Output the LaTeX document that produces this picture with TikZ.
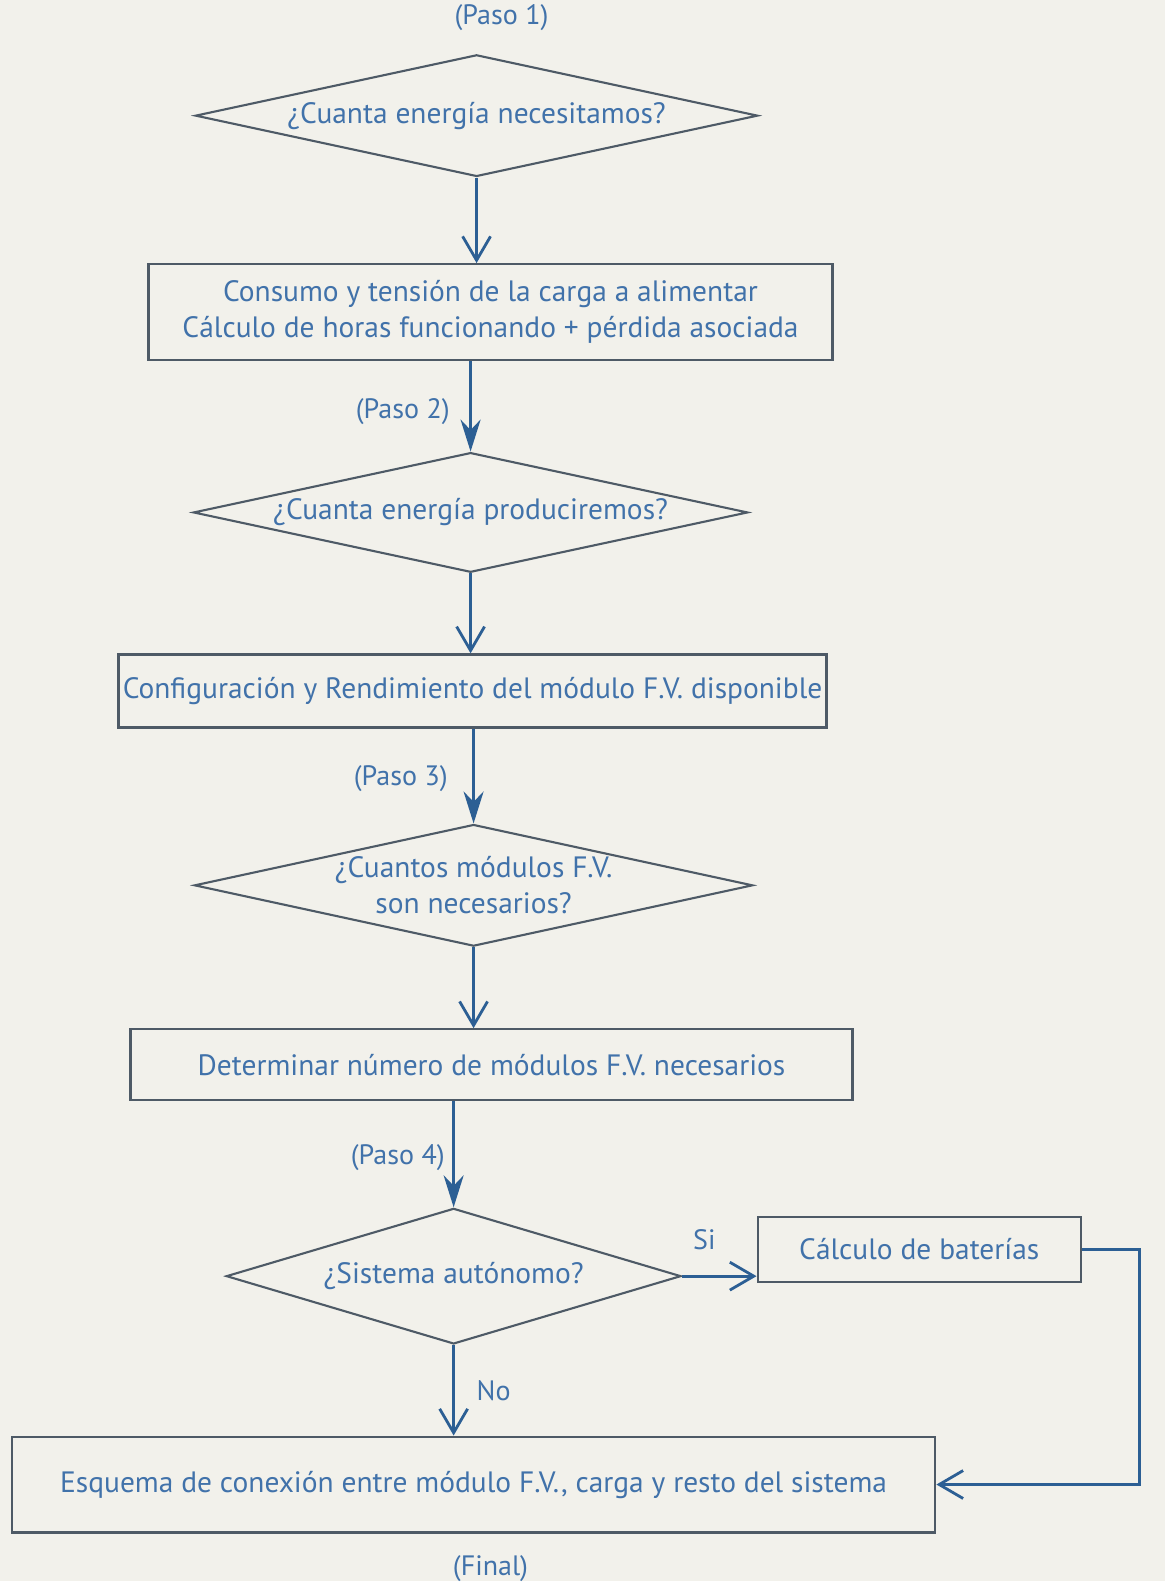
\documentclass[tikz,border=0pt]{standalone}
\usepackage{fontspec}
\setmainfont{PT Sans}
\usepackage{xcolor}
\usetikzlibrary{shapes,arrows.meta,positioning,calc}

\definecolor{paper}{HTML}{F2F1EB}
\definecolor{inkblue}{HTML}{4172AA}
\definecolor{arrowblue}{HTML}{2C5F94}
\definecolor{linegray}{HTML}{4E5A66}

\begin{document}
\begin{tikzpicture}[
  x=0.025cm, y=-0.025cm,
  every node/.style={text=inkblue, font=\fontsize{21}{26}\selectfont},
  box/.style={rectangle, draw=linegray, line width=1.6pt, fill=paper, align=center, inner sep=0pt},
  question/.style={diamond, draw=linegray, line width=1.5pt, fill=paper, align=center, inner sep=0pt, aspect=4.6},
  tag/.style={font=\fontsize{20}{24}\selectfont},
  openarrow/.style={-{Straight Barb[length=6mm,width=7mm,line width=2pt]}, line width=2.3pt, draw=arrowblue},
  fillarrow/.style={-{Stealth[length=8mm,width=5mm]}, line width=2.3pt, draw=arrowblue}
]

% paper background
\fill[paper] (0,0) rectangle (1169,1586);

% Step 1
\node[tag] (paso1) at (503,18) {(Paso 1)};
\node[question, minimum width=14.1cm, minimum height=3.05cm] (need) at (478,116) {¿Cuanta energía necesitamos?};
\node[box, minimum width=17.15cm, minimum height=2.4cm] (load) at (492,313)
  {Consumo y tensión de la carga a alimentar\\Cálculo de horas funcionando + pérdida asociada};
\draw[openarrow] (need.south) -- (need.south |- load.north);

% Step 2
\node[question, minimum width=13.9cm, minimum height=3cm] (produce) at (472,514) {¿Cuanta energía produciremos?};
\draw[fillarrow] (produce.north |- load.south) -- (produce.north);
\node[tag] (paso2) at (404,413) {(Paso 2)};
\node[box, minimum width=17.75cm, minimum height=1.83cm] (config) at (474,693)
  {Configuración y Rendimiento del módulo F.V. disponible};
\draw[openarrow] (produce.south) -- (produce.south |- config.north);

% Step 3
\node[question, minimum width=14cm, minimum height=3.05cm] (modules) at (475,888) {¿Cuantos módulos F.V.\\son necesarios?};
\draw[fillarrow] (modules.north |- config.south) -- (modules.north);
\node[tag] (paso3) at (402,781) {(Paso 3)};
\node[box, minimum width=18.1cm, minimum height=1.78cm] (count) at (493,1068)
  {Determinar número de módulos F.V. necesarios};
\draw[openarrow] (modules.south) -- (modules.south |- count.north);

% Step 4
\node[question, minimum width=11.4cm, minimum height=3.4cm] (auto) at (455,1280) {¿Sistema autónomo?};
\draw[fillarrow] (auto.north |- count.south) -- (auto.north);
\node[tag] (paso4) at (399,1161) {(Paso 4)};
\node[box, minimum width=8.1cm, minimum height=1.63cm] (batt) at (922,1253) {Cálculo de baterías};
\draw[openarrow] (auto.east) -- (auto.east -| batt.west) node[tag, pos=0.3, above=14pt] (si) {Si};

\node[box, minimum width=23.15cm, minimum height=2.4cm] (scheme) at (475,1489)
  {Esquema de conexión entre módulo F.V., carga y resto del sistema};
\draw[openarrow] (auto.south) -- (auto.south |- scheme.north) node[tag, midway, right=12pt] (no) {No};
\coordinate (loop) at (1143,1253);
\draw[openarrow] (batt.east) -- (loop) -- (loop |- scheme.east) -- (scheme.east);

\node[tag] (final) at (492,1573) {(Final)};

\end{tikzpicture}
\end{document}
